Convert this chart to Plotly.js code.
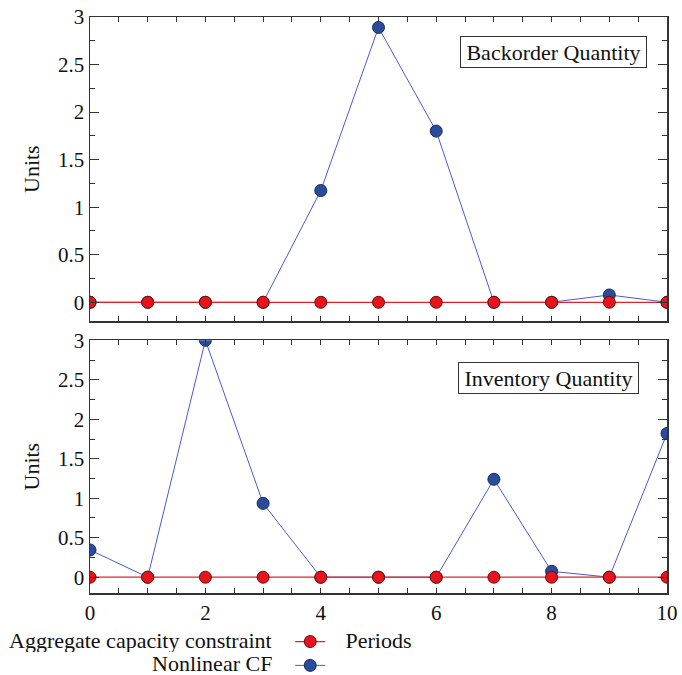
<!DOCTYPE html>
<html>
<head>
<meta charset="utf-8">
<script src="https://cdn.plot.ly/plotly-3.0.1.min.js"></script>
<style>
  html, body { margin: 0; padding: 0; background: #fff; }
  #chart { width: 682px; height: 675px; }
</style>
</head>
<body>
<div id="chart"></div>
<script>
// Periods on the shared horizontal axis
const periods = [0, 1, 2, 3, 4, 5, 6, 7, 8, 9, 10];

// Backorder quantity per period
const backorderAggregate = [0, 0, 0, 0, 0, 0, 0, 0, 0, 0, 0];
const backorderNonlinear = [0, 0, 0, 0, 1.175, 2.89, 1.80, 0, 0, 0.077, 0];

// Inventory quantity per period
const inventoryAggregate = [0, 0, 0, 0, 0, 0, 0, 0, 0, 0, 0];
const inventoryNonlinear = [0.345, 0, 3.0, 0.935, 0, 0, 0, 1.24, 0.075, 0, 1.82];

const seriesNames = ['Aggregate capacity constraint', 'Nonlinear CF'];
const panelTitles = ['Backorder Quantity', 'Inventory Quantity'];

const RED = '#e5141d', RED_EDGE = '#6e0b0b', RED_LINE = '#e0222c';
const BLUE = '#2b4b9d', BLUE_EDGE = '#162a5a', BLUE_LINE = '#4a5cc8';
const SERIF = '"Liberation Serif", "DejaVu Serif", serif';

// Legend keys carry only the symbol; their labels are set to the left of
// the keys as annotations, so the legend entries themselves have no text.
function blueTrace(y, xa, ya, legend) {
  return {
    x: periods, y: y, xaxis: xa, yaxis: ya,
    type: 'scatter', mode: 'lines+markers', name: legend ? '' : seriesNames[1],
    showlegend: legend, legendrank: 2,
    line: { color: BLUE_LINE, width: 1 },
    marker: { color: BLUE, size: 12, line: { color: BLUE_EDGE, width: 1 } }
  };
}
function redTrace(y, xa, ya, legend) {
  return {
    x: periods, y: y, xaxis: xa, yaxis: ya,
    type: 'scatter', mode: 'lines+markers', name: legend ? '' : seriesNames[0],
    showlegend: legend, legendrank: 1,
    line: { color: RED_LINE, width: 1.2 },
    marker: { color: RED, size: 12, line: { color: RED_EDGE, width: 1 } }
  };
}

const data = [
  blueTrace(backorderNonlinear, 'x', 'y', false),
  redTrace(backorderAggregate, 'x', 'y', false),
  blueTrace(inventoryNonlinear, 'x2', 'y2', true),
  redTrace(inventoryAggregate, 'x2', 'y2', true)
];

const frame = {
  showline: true, linecolor: '#333333', linewidth: 1.5, mirror: 'allticks',
  ticks: 'inside', tickcolor: '#333333', showgrid: false, zeroline: false,
  automargin: false
};

function xAxis(anchor, labels) {
  return Object.assign({}, frame, {
    anchor: anchor, domain: [0, 1], range: [0, 10],
    dtick: 2, tick0: 0, ticklen: 5, tickwidth: 1,
    minor: { dtick: 0.5, ticks: 'inside', ticklen: 5, tickcolor: '#333333', showgrid: false },
    showticklabels: labels,
    tickfont: { family: SERIF, size: 21, color: '#111111' }
  });
}
function yAxis(anchor, domain) {
  return Object.assign({}, frame, {
    anchor: anchor, domain: domain, range: [-0.2, 3.0],
    dtick: 0.5, tick0: 0, ticklen: 9, tickwidth: 1,
    minor: { dtick: 0.25, ticks: 'inside', ticklen: 5, tickcolor: '#333333', showgrid: false },
    tickfont: { family: SERIF, size: 21, color: '#111111' },
    title: { text: 'Units', font: { family: SERIF, size: 22, color: '#111111' }, standoff: 12 }
  });
}

const xBottom = xAxis('y2', true);
xBottom.title = { text: 'Periods', font: { family: SERIF, size: 22, color: '#111111' }, standoff: 9 };

function panelLabel(text, x, y, w) {
  return {
    text: text, xref: 'paper', yref: 'paper', x: x, y: y,
    xanchor: 'center', yanchor: 'middle', showarrow: false,
    width: w, height: 26, borderpad: 2,
    bordercolor: '#333333', borderwidth: 1, bgcolor: '#ffffff',
    font: { family: SERIF, size: 22, color: '#111111' }
  };
}
function legendLabel(text, y) {
  return {
    text: text, xref: 'paper', yref: 'paper', x: 0.319, y: y,
    xanchor: 'right', yanchor: 'middle', showarrow: false, height: 24,
    font: { family: SERIF, size: 22, color: '#111111' }
  };
}

const layout = {
  width: 682, height: 675,
  margin: { l: 90, r: 15, t: 17, b: 82, autoexpand: false },
  paper_bgcolor: '#ffffff', plot_bgcolor: '#ffffff',
  showlegend: true,
  legend: {
    x: 0.347, y: -0.055, xanchor: 'left', yanchor: 'top',
    bgcolor: 'rgba(0,0,0,0)', itemwidth: 30,
    font: { family: SERIF, size: 16, color: '#111111' },
    itemclick: false, itemdoubleclick: false
  },
  xaxis: xAxis('y', false),
  yaxis: yAxis('x', [0.4717, 1]),
  xaxis2: xBottom,
  yaxis2: yAxis('x2', [0, 0.4387]),
  annotations: [
    panelLabel(panelTitles[0], 0.8037, 0.9396, 181),
    panelLabel(panelTitles[1], 0.795, 0.3727, 175),
    legendLabel(seriesNames[0], -0.081),
    legendLabel(seriesNames[1], -0.121)
  ]
};

Plotly.newPlot('chart', data, layout, { displayModeBar: false, staticPlot: true });
</script>
</body>
</html>
